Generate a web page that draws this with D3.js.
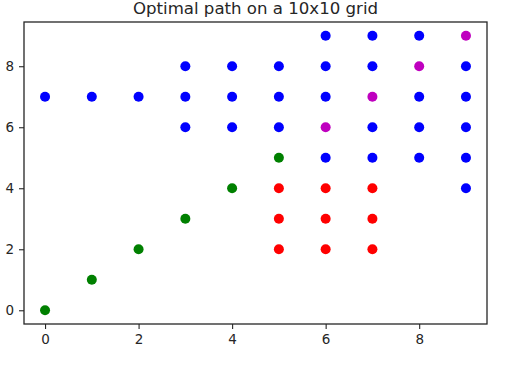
<!DOCTYPE html>
<html>
<head>
<meta charset="utf-8">
<script src="https://cdn.jsdelivr.net/npm/d3@7"></script>
<style>
  body { margin: 0; background: #fff; }
  text { font-family: "DejaVu Sans", sans-serif; fill: #262626; }
</style>
</head>
<body>
<svg class="chart"></svg>
<script>
// grid cells, grouped by colour
var pathX = [0, 1, 2, 3, 4, 5]
var pathY = [0, 1, 2, 3, 4, 5]

var goalX = [6, 7, 8, 9]
var goalY = [6, 7, 8, 9]

var blockX = [5, 6, 7, 5, 6, 7, 5, 6, 7]
var blockY = [4, 4, 4, 3, 3, 3, 2, 2, 2]

var openX = [0, 1, 2, 3, 3, 3, 4, 4, 4, 5, 5, 5, 6, 6, 6, 6, 7, 7, 7, 7, 8, 8, 8, 8, 9, 9, 9, 9, 9]
var openY = [7, 7, 7, 8, 7, 6, 8, 7, 6, 8, 7, 6, 9, 8, 7, 5, 9, 8, 6, 5, 9, 7, 6, 5, 8, 7, 6, 5, 4]

var xTicks = [0, 2, 4, 6, 8]
var yTicks = [0, 2, 4, 6, 8]

var title = "Optimal path on a 10x10 grid"

var series = [
  {xs: openX, ys: openY, color: "#0000ff"},
  {xs: blockX, ys: blockY, color: "#ff0000"},
  {xs: pathX, ys: pathY, color: "#008000"},
  {xs: goalX, ys: goalY, color: "#bf00bf"}
]

var W = 524, H = 380
var margin = {top: 22, right: 37, bottom: 56, left: 24},
    width = W - margin.left - margin.right,
    height = H - margin.top - margin.bottom;

var x = d3.scaleLinear().domain([-0.45, 9.45]).range([0, width]);
var y = d3.scaleLinear().domain([-0.45, 9.45]).range([height, 0]);

var svg = d3.select(".chart")
    .attr("width", W)
    .attr("height", H);

var chart = svg.append("g")
    .attr("transform", "translate(" + margin.left + "," + margin.top + ")");

series.forEach(function(s) {
  var pts = s.xs.map(function(v, i) { return [v, s.ys[i]]; });
  chart.append("g").selectAll("circle")
      .data(pts)
    .enter().append("circle")
      .attr("cx", function(d) { return x(d[0]); })
      .attr("cy", function(d) { return y(d[1]); })
      .attr("r", 5)
      .attr("fill", s.color);
});

var xAxis = chart.append("g")
    .attr("transform", "translate(0," + height + ")")
    .call(d3.axisBottom(x).tickValues(xTicks).tickSize(5).tickPadding(5).tickFormat(d3.format("d")));

var yAxis = chart.append("g")
    .call(d3.axisLeft(y).tickValues(yTicks).tickSize(5).tickPadding(5).tickFormat(d3.format("d")));

[xAxis, yAxis].forEach(function(a) {
  a.select(".domain").remove();
  a.selectAll("line").attr("stroke", "#262626").attr("stroke-width", 1.1);
  a.selectAll("text").attr("font-size", 13.5).attr("font-family", "DejaVu Sans").attr("fill", "#262626");
});

chart.append("rect")
    .attr("width", width)
    .attr("height", height)
    .attr("fill", "none")
    .attr("stroke", "#262626")
    .attr("stroke-width", 1.3);

chart.append("text")
    .attr("x", width / 2)
    .attr("y", -8)
    .attr("text-anchor", "middle")
    .attr("font-size", 16.6)
    .text(title);
</script>
</body>
</html>
